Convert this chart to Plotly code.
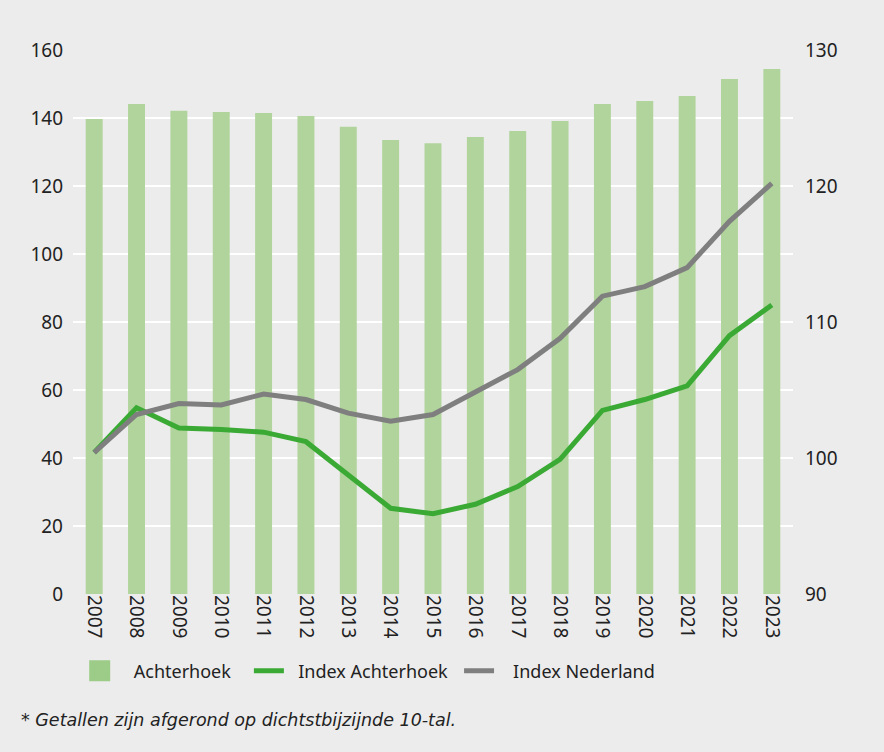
import plotly.graph_objects as go

years = [str(y) for y in range(2007, 2024)]
achterhoek = [139.7, 144.1, 142.1, 141.8, 141.5, 140.6, 137.4, 133.5, 132.6, 134.4,
              136.2, 139.1, 144.1, 145.0, 146.5, 151.5, 154.4]
index_achterhoek = [100.4, 103.7, 102.2, 102.1, 101.9, 101.2, 98.75, 96.3, 95.9, 96.6,
                    97.9, 99.9, 103.5, 104.3, 105.3, 109.0, 111.25]
index_nederland = [100.4, 103.2, 104.0, 103.9, 104.7, 104.3, 103.3, 102.7, 103.2, 104.8,
                   106.5, 108.8, 111.9, 112.6, 114.0, 117.4, 120.2]
left_ticks = [0, 20, 40, 60, 80, 100, 120, 140, 160]
right_ticks = [90, 100, 110, 120, 130]

FONT = "Noto Sans"
TXT = "#222222"
BAR = "#b0d49b"
NB = "\u00a0"

fig = go.Figure()
fig.add_trace(go.Bar(x=years, y=achterhoek, name="Achterhoek", legendgroup="a",
                     showlegend=False,
                     marker=dict(color=BAR, line=dict(width=0)), yaxis="y"))
# legend-only entry giving the larger square swatch of the original legend
fig.add_trace(go.Scatter(x=[None], y=[None], name=NB * 3 + "Achterhoek", legendgroup="a",
                         mode="markers", legend="legend",
                         marker=dict(symbol="square", size=16, color="#9ccc88",
                                     line=dict(color="#9ccc88", width=5))))
fig.add_trace(go.Scatter(x=years, y=index_achterhoek, name=NB * 2 + "Index Achterhoek",
                         mode="lines", line=dict(color="#3aaa35", width=5), yaxis="y2",
                         legend="legend2"))
fig.add_trace(go.Scatter(x=years, y=index_nederland, name=NB * 3 + "Index Nederland",
                         mode="lines", line=dict(color="#7f7f7f", width=5), yaxis="y2",
                         legend="legend3"))

leg_common = dict(orientation="h", xanchor="left", y=-0.1415, yanchor="middle",
                  font=dict(size=18, color=TXT), bgcolor="rgba(0,0,0,0)",
                  itemwidth=30, itemclick=False, itemdoubleclick=False)

fig.update_layout(
    width=884, height=752,
    paper_bgcolor="#ececec", plot_bgcolor="#ececec",
    margin=dict(l=73, r=91, t=50, b=158),
    font=dict(family=FONT, size=19, color=TXT),
    bargap=0.6,
    showlegend=True,
    legend=dict(x=0.0093, **leg_common),
    legend2=dict(x=0.2443, **leg_common),
    legend3=dict(x=0.5362, **leg_common),
    xaxis=dict(type="category", tickangle=90, showgrid=False, zeroline=False,
               showline=False, ticks="", tickfont=dict(size=19, color=TXT)),
    yaxis=dict(range=[0, 160], tickvals=left_ticks, showgrid=True, gridcolor="#ffffff",
               gridwidth=2, zeroline=False, showline=False, ticks="",
               ticklabelstandoff=9, tickfont=dict(size=19, color=TXT)),
    yaxis2=dict(range=[90, 130], tickvals=right_ticks, overlaying="y", side="right",
                showgrid=False, zeroline=False, showline=False, ticks="",
                ticklabelstandoff=11, tickfont=dict(size=19, color=TXT)),
    annotations=[dict(text="<i>* Getallen zijn afgerond op dichtstbijzijnde 10-tal.</i>",
                      xref="paper", yref="paper", x=-0.0749, y=-0.2316,
                      xanchor="left", yanchor="middle", showarrow=False,
                      font=dict(family="DejaVu Sans", size=17.5, color=TXT))],
)

fig.write_html(
    "out.html",
    config={"displayModeBar": False},
    post_script="document.body.style.margin='0';document.body.style.background='#ececec';"
                "document.body.style.overflow='hidden';",
)
